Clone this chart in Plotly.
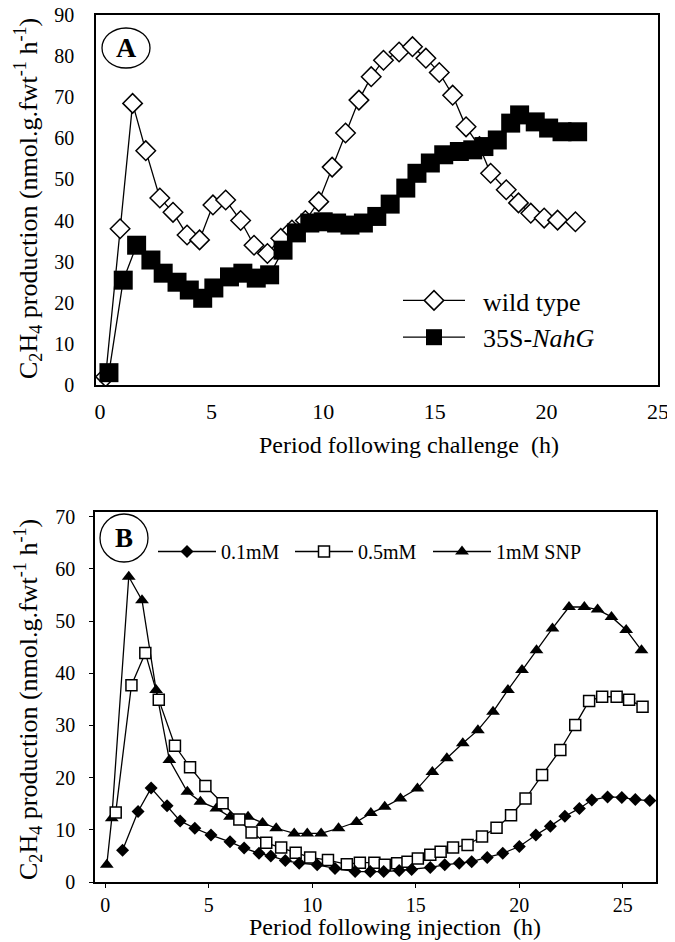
import plotly.graph_objects as go

W, H = 675, 942
FONT = "Liberation Serif, Times New Roman, serif"
OFF = 8  # browser body margin

# ---- Panel A data ----
wt_x = [0.25, 0.9, 1.46, 2.05, 2.68, 3.27, 3.9, 4.46, 5.06, 5.63, 6.3, 6.9, 7.5, 8.1, 8.6, 9.2,
        9.8, 10.4, 11.0, 11.6, 12.15, 12.7, 13.4, 14.0, 14.6, 15.2, 15.8, 16.4, 17.0, 17.5,
        18.2, 18.75, 19.3, 19.9, 20.5, 21.3]
wt_y = [2, 38, 68.5, 57, 45.5, 42, 36.5, 35.3, 43.8, 45, 40, 34, 32, 35.7, 37.7, 40,
        44.6, 53, 61.3, 69.3, 75, 79, 81, 82.3, 79.5, 76, 70.5, 62.8, 58, 51.5,
        47.5, 44.3, 41.8, 40.6, 40.1, 39.7]
nahg_x = [0.4, 1.04, 1.64, 2.28, 2.83, 3.45, 4.0, 4.6, 5.1, 5.8, 6.4, 7.0, 7.6, 8.2, 8.8, 9.4,
          10.0, 10.6, 11.2, 11.8, 12.4, 13.0, 13.7, 14.2, 14.8, 15.4, 16.1, 16.7, 17.2, 17.8,
          18.4, 18.8, 19.5, 20.1, 20.7, 21.4]
nahg_y = [3, 25.5, 34, 30.4, 27.2, 25, 23.1, 21.1, 23.6, 26.3, 27.2, 26, 26.8, 32.8, 37, 39.4,
          39.7, 39.4, 38.9, 39.4, 41, 44, 47.9, 51.5, 54, 56, 56.8, 57.2, 58, 59.6,
          63.7, 65.7, 64, 62.5, 61.6, 61.6]

# ---- Panel B data ----
snp1_x = [0.08, 0.32, 1.14, 1.78, 2.46, 3.1, 3.97, 4.6, 5.37, 6.03, 6.9, 7.6, 8.26, 9.13, 9.76,
          10.43, 11.27, 12.14, 12.83, 13.5, 14.26, 15.08, 15.8, 16.5, 17.27, 18.0, 18.73, 19.45,
          20.13, 20.83, 21.6, 22.4, 23.14, 23.78, 24.45, 25.16, 25.9]
snp1_y = [3.3, 12.2, 58.5, 54, 36.8, 23.4, 17.3, 15.4, 14.1, 12.5, 12.5, 11.3, 10.3, 9.3, 9.3,
          9.3, 10.3, 11.5, 13.2, 14.4, 16, 17.9, 21.1, 23.7, 26.6, 29.1, 32.6, 36.8,
          40.6, 44.4, 48.6, 52.7, 52.7, 52.2, 50.8, 48.3, 44.4]
snp05_x = [0.51, 1.27, 1.94, 2.59, 3.37, 4.1, 4.84, 5.67, 6.48, 7.07, 7.78, 8.5, 9.2, 9.9, 10.76,
           11.67, 12.3, 13.0, 13.5, 14.1, 14.6, 15.1, 15.7, 16.2, 16.8, 17.5, 18.2, 18.9, 19.6,
           20.3, 21.1, 21.98, 22.7, 23.37, 24.0, 24.7, 25.3, 25.95]
snp05_y = [13.3, 37.7, 43.9, 34.9, 26.1, 22, 18.4, 15.1, 12, 9.5, 7.5, 6.6, 5.6, 4.7, 4.2,
           3.4, 3.7, 3.7, 3.3, 3.6, 3.9, 4.5, 5.2, 5.8, 6.6, 7.1, 8.7, 10.4, 12.8,
           16, 20.5, 25.3, 30.1, 34.7, 35.5, 35.5, 34.9, 33.6]
snp01_x = [0.84, 1.59, 2.22, 2.99, 3.62, 4.33, 5.11, 6.03, 6.71, 7.43, 8.0, 8.7, 9.37, 10.24, 11.1,
           12.07, 12.8, 13.45, 14.2, 14.8, 15.7, 16.4, 17.1, 17.7, 18.45, 19.2, 20.0, 20.8, 21.5,
           22.2, 22.9, 23.5, 24.26, 24.95, 25.6, 26.3]
snp01_y = [6.1, 13.5, 18, 14.6, 11.7, 10.3, 9.0, 7.7, 6.5, 5.5, 5.0, 4.1, 3.6, 3.3, 2.6,
           2.0, 2.0, 2.0, 2.2, 2.4, 2.8, 3.3, 3.6, 3.9, 4.7, 5.5, 6.8, 9.0, 10.7,
           12.6, 14.1, 15.7, 16.3, 16.2, 15.8, 15.6]

ytitle = "C<sub>2</sub>H<sub>4</sub> production (nmol.g.fwt<sup>-1</sup> h<sup>-1</sup>)"
NB = "\u00a0"


def px(x):
    return (x - OFF) / W


def py(y):
    return 1 - (y - OFF) / H


fig = go.Figure()
LW = 1.3
fig.add_trace(go.Scatter(x=wt_x, y=wt_y, mode="lines+markers", name=NB * 2 + "wild type",
                         line=dict(color="black", width=LW),
                         marker=dict(symbol="diamond", size=15, color="white",
                                     line=dict(color="black", width=1.5)),
                         xaxis="x", yaxis="y", legend="legend"))
fig.add_trace(go.Scatter(x=nahg_x, y=nahg_y, mode="lines+markers",
                         name=NB * 2 + "35S-<i>NahG</i>",
                         line=dict(color="black", width=LW),
                         marker=dict(symbol="square", size=19, color="black",
                                     line=dict(color="black", width=0)),
                         xaxis="x", yaxis="y", legend="legend"))
fig.add_trace(go.Scatter(x=snp1_x, y=snp1_y, mode="lines+markers", name="1mM SNP",
                         line=dict(color="black", width=LW),
                         marker=dict(symbol="triangle-up", size=12, color="black",
                                     line=dict(color="black", width=0)),
                         xaxis="x2", yaxis="y2", legend="legend3"))
fig.add_trace(go.Scatter(x=snp05_x, y=snp05_y, mode="lines+markers", name="0.5mM",
                         line=dict(color="black", width=LW),
                         marker=dict(symbol="square", size=11, color="white",
                                     line=dict(color="black", width=1.5)),
                         xaxis="x2", yaxis="y2", legend="legend2"))
fig.add_trace(go.Scatter(x=snp01_x, y=snp01_y, mode="lines+markers", name="0.1mM",
                         line=dict(color="black", width=LW),
                         marker=dict(symbol="diamond", size=10, color="black",
                                     line=dict(color="black", width=0)),
                         xaxis="x2", yaxis="y2", legend="legend2"))

axcommon = dict(showline=True, linecolor="black", linewidth=1.5, mirror=True,
                showgrid=False, zeroline=False, automargin=False, ticklabeloverflow="allow")

fig.update_layout(
    width=W, height=H,
    margin=dict(l=0, r=0, t=0, b=0, autoexpand=False),
    paper_bgcolor="white", plot_bgcolor="white",
    font=dict(family=FONT, color="black"),
    xaxis=dict(domain=[px(96), px(658)], range=[-0.18, 25.0], tickvals=[0, 5, 10, 15, 20, 25],
               ticks="", anchor="y", ticklabelstandoff=6,
               tickfont=dict(family=FONT, size=22, color="black"), **axcommon),
    yaxis=dict(domain=[py(385), py(15)], range=[0, 90], dtick=10, ticks="", anchor="x",
               ticklabelstandoff=16,
               tickfont=dict(family=FONT, size=20, color="black"), **axcommon),
    xaxis2=dict(domain=[px(95), px(656)], range=[-0.49, 26.6], tickvals=[0, 5, 10, 15, 20, 25],
                ticks="outside", ticklen=4, tickwidth=1, tickcolor="black", anchor="y2",
                ticklabelstandoff=0,
                tickfont=dict(family=FONT, size=20, color="black"), **axcommon),
    yaxis2=dict(domain=[py(882), py(512)], range=[0, 70.9], dtick=10,
                ticks="outside", ticklen=4, tickwidth=1, tickcolor="black", anchor="x2",
                ticklabelstandoff=10,
                tickfont=dict(family=FONT, size=20, color="black"), **axcommon),
    legend=dict(x=px(398), y=py(277), xanchor="left", yanchor="top",
                font=dict(family=FONT, size=26, color="black"), bgcolor="rgba(0,0,0,0)",
                itemwidth=62, tracegroupgap=0),
    legend2=dict(orientation="h", x=px(153), y=py(532), xanchor="left", yanchor="top",
                 font=dict(family=FONT, size=20, color="black"), bgcolor="rgba(0,0,0,0)",
                 traceorder="reversed", itemwidth=58, entrywidth=64, entrywidthmode="pixels"),
    legend3=dict(orientation="h", x=px(428), y=py(532), xanchor="left", yanchor="top",
                 font=dict(family=FONT, size=20, color="black"), bgcolor="rgba(0,0,0,0)",
                 itemwidth=58),
    showlegend=True,
)

# axis titles
fig.add_annotation(text="Period following challenge  (h)", x=px(409), y=py(445),
                   xref="paper", yref="paper", xanchor="center", yanchor="middle",
                   showarrow=False, font=dict(family=FONT, size=24))
fig.add_annotation(text="Period following injection  (h)", x=px(395), y=py(927),
                   xref="paper", yref="paper", xanchor="center", yanchor="middle",
                   showarrow=False, font=dict(family=FONT, size=24))
fig.add_annotation(text=ytitle, x=px(28), y=py(199), xref="paper", yref="paper",
                   xanchor="center", yanchor="middle",
                   textangle=-90, showarrow=False, font=dict(family=FONT, size=26))
fig.add_annotation(text=ytitle, x=px(28), y=py(700), xref="paper", yref="paper",
                   xanchor="center", yanchor="middle",
                   textangle=-90, showarrow=False, font=dict(family=FONT, size=26))

# circled panel letters
fig.add_shape(type="circle", xref="paper", yref="paper",
              x0=px(102), x1=px(150), y0=py(28), y1=py(68), line=dict(color="black", width=1.3))
fig.add_annotation(text="<b>A</b>", x=px(126), y=py(48), xref="paper", yref="paper",
                   xanchor="center", yanchor="middle",
                   showarrow=False, font=dict(family=FONT, size=28))
fig.add_shape(type="circle", xref="paper", yref="paper",
              x0=px(100), x1=px(148), y0=py(514), y1=py(562), line=dict(color="black", width=1.3))
fig.add_annotation(text="<b>B</b>", x=px(124), y=py(538), xref="paper", yref="paper",
                   xanchor="center", yanchor="middle",
                   showarrow=False, font=dict(family=FONT, size=27))

fig.write_html("out.html")
